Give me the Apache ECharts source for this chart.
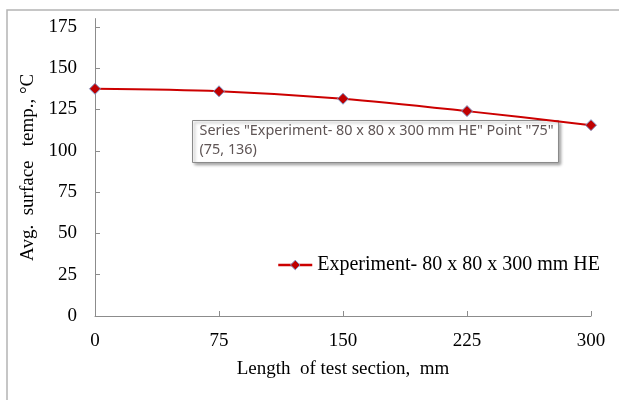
<!DOCTYPE html>
<html>
<head>
<meta charset="utf-8">
<script src="https://cdn.jsdelivr.net/npm/echarts@6/dist/echarts.min.js"></script>
<style>html,body{margin:0;padding:0;background:#fff;}#c{width:619px;height:400px;}</style>
</head>
<body>
<div id="c"></div>
<script>
const seriesName = 'Experiment- 80 x 80 x 300 mm HE';
const lengths = [0, 75, 150, 225, 300];
const temps = [137.5, 136, 131.5, 124, 115.5];
const yTicks = [0, 25, 50, 75, 100, 125, 150, 175];
const xTicks = [0, 75, 150, 225, 300];
const tipIndex = 1;

const serif = '"Liberation Serif","Times New Roman",serif';
const chart = echarts.init(document.getElementById('c'), null, {renderer: 'canvas'});
const tipLine1 = 'Series "' + seriesName + '" Point "' + lengths[tipIndex] + '"';
const tipLine2 = '(' + lengths[tipIndex] + ', ' + Math.round(temps[tipIndex]) + ')';

chart.setOption({
  animation: false,
  backgroundColor: '#ffffff',
  grid: {left: 95, right: 28, top: 18.6, bottom: 84, containLabel: false},
  xAxis: {
    type: 'value', min: 0, max: 300, interval: 75,
    name: 'Length  of test section,  mm', nameLocation: 'middle', nameGap: 44,
    nameTextStyle: {fontFamily: serif, fontSize: 19, color: '#000'},
    axisLine: {show: true, lineStyle: {color: '#8c8c8c', width: 1}},
    axisTick: {show: true, inside: true, length: 5, lineStyle: {color: '#8c8c8c'}, customValues: xTicks},
    axisLabel: {fontFamily: serif, fontSize: 19, color: '#000', margin: 16, customValues: xTicks},
    splitLine: {show: false}
  },
  yAxis: {
    type: 'value', min: 0, max: 180, interval: 25,
    name: 'Avg.  surface   temp., °C', nameLocation: 'middle', nameGap: 51,
    nameTextStyle: {fontFamily: serif, fontSize: 19, color: '#000'},
    axisLine: {show: true, lineStyle: {color: '#8c8c8c', width: 1}},
    axisTick: {show: true, inside: true, length: 5, lineStyle: {color: '#8c8c8c'}, customValues: yTicks},
    axisLabel: {fontFamily: serif, fontSize: 19, color: '#000', margin: 18, customValues: yTicks},
    splitLine: {show: false}
  },
  legend: {
    show: true, left: 277, top: 255, padding: 0, orient: 'horizontal',
    itemWidth: 34, itemHeight: 12,
    textStyle: {fontFamily: serif, fontSize: 20, color: '#000'},
    lineStyle: {color: '#cc0000', width: 2.5},
    itemStyle: {color: '#c00000', borderColor: '#7f97c8', borderWidth: 1},
    data: [seriesName]
  },
  series: [{
    name: seriesName, type: 'line', smooth: 0.3,
    data: lengths.map((x, i) => [x, temps[i]]),
    symbol: 'diamond', symbolSize: 11,
    lineStyle: {color: '#cc0000', width: 2},
    itemStyle: {color: '#c00000', borderColor: '#7f97c8', borderWidth: 1}
  }],
  graphic: [
    {type: 'rect', left: 4.5, top: 7.5, shape: {width: 700, height: 500},
     style: {fill: 'none', stroke: '#b4b4b4', lineWidth: 1.5}, silent: true, z: 0},
    {type: 'group', left: 192, top: 120, z: 100, children: [
      {type: 'rect', shape: {width: 366, height: 42},
       style: {fill: '#ffffff', stroke: '#8a8a8a', lineWidth: 1, shadowBlur: 3, shadowOffsetX: 2, shadowOffsetY: 2, shadowColor: 'rgba(0,0,0,0.35)'}},
      {type: 'text', left: 7, top: 3, style: {text: tipLine1, font: '14.4px "Noto Sans", sans-serif', fill: '#5f5555'}},
      {type: 'text', left: 7, top: 22, style: {text: tipLine2, font: '14.4px "Noto Sans", sans-serif', fill: '#5f5555'}}
    ]}
  ]
});
</script>
</body>
</html>
